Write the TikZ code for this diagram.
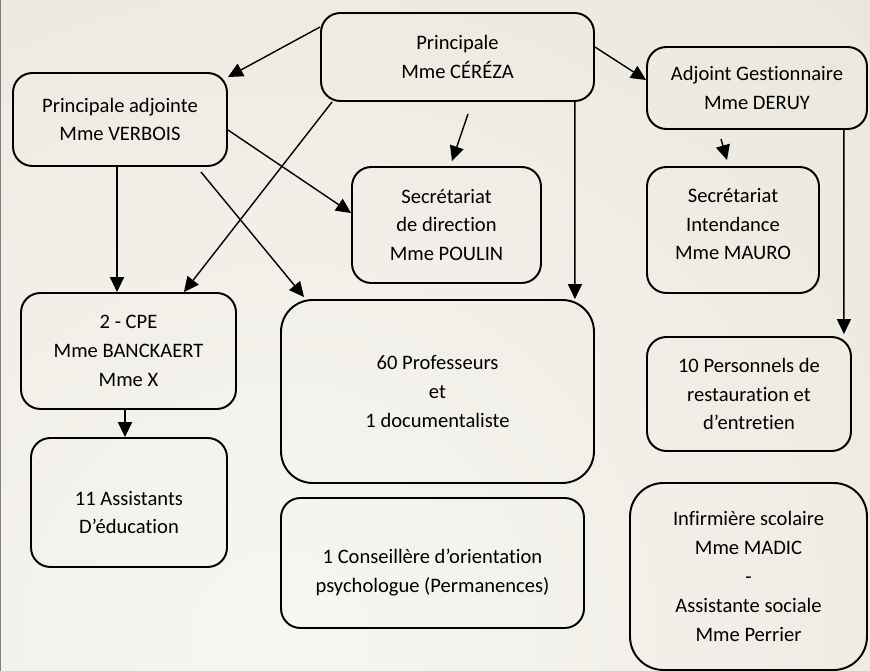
\documentclass[tikz,border=0pt]{standalone}
\usepackage{fontspec}
\setmainfont{Carlito}[Ligatures=CommonOff]
\usetikzlibrary{calc}
\usetikzlibrary{arrows.meta}
\definecolor{bglight}{RGB}{247,246,242}
\definecolor{bgdark}{RGB}{219,213,193}

\begin{document}
\begin{tikzpicture}[x=.02cm, y=-.02cm,
 box/.style={draw, line width=1.1pt, rounded corners=11pt, align=center, inner sep=0pt, font=\fontsize{11.7}{16.4}\selectfont},
 arr/.style={line width=.8pt, -{Triangle[length=8.5pt, width=8pt]}}]
\useasboundingbox (0,0) rectangle (870,671);
\begin{scope}
 \clip (0,0) rectangle (870,671);
 \shade[inner color=bglight, outer color=bgdark] (280,640) circle (1900);
\end{scope}
\draw[gray, line width=1.2pt] (0,0)--(0,671);
\node[box, minimum width=5.46cm, minimum height=1.76cm] (princ) at (457.5,57) {Principale\\Mme CÉRÉZA};
\node[box, minimum width=4.28cm, minimum height=1.86cm] (adj) at (120,119.5) {Principale adjointe\\Mme VERBOIS};
\node[box, minimum width=4.40cm, minimum height=1.64cm] (gest) at (757,88) {Adjoint Gestionnaire\\Mme DERUY};
\node[box, minimum width=3.78cm, minimum height=2.32cm] (secdir) at (446.5,225) {Secrétariat\\de direction\\Mme POULIN};
\node[box, minimum width=3.44cm, minimum height=2.52cm] (secint) at (733,230) {Secrétariat\\Intendance\\Mme MAURO\\[-9.5pt]};
\node[box, minimum width=4.30cm, minimum height=2.32cm] (cpe) at (128.5,351) {2 - CPE\\Mme BANCKAERT\\Mme X};
\node[box, minimum width=6.26cm, minimum height=3.66cm, rounded corners=18pt] (prof) at (437.5,391.5) {60 Professeurs\\et\\1 documentaliste};
\node[box, minimum width=3.92cm, minimum height=2.58cm] (asst) at (129,502.5) {\\[3pt]11 Assistants\\D’éducation};
\node[box, minimum width=6.06cm, minimum height=2.60cm] (cons) at (432.5,563) {\\[3pt]1 Conseillère d’orientation\\psychologue (Permanences)};
\node[box, minimum width=4.08cm, minimum height=2.28cm] (pers) at (749,394) {10 Personnels de\\restauration et\\d’entretien};
\node[box, minimum width=4.74cm, minimum height=3.74cm, rounded corners=19pt] (inf) at (748.5,576.5) {Infirmière scolaire\\Mme MADIC\\-\\Assistante sociale\\Mme Perrier};
\draw[arr] ($(princ.west)+(0,-30)$) -- ($(adj.north east)+(0,5)$);
\draw[arr] ($(princ.east)+(0,-10)$) -- ($(gest.west)+(0,-8)$);
\draw[arr] ($(princ.south)+(10.5,12)$) -- ($(secdir.north)+(5.5,-5)$);
\draw[arr] ($(princ.south east)+(-20,0)$) -- ($(prof.north east)+(-20,0)$);
\draw[arr] ($(princ.south west)+(12,0)$) -- ($(cpe.north east)+(-53,0)$);
\draw[arr] ($(adj.south)+(-3,0)$) -- ($(cpe.north)+(-11.5,0)$);
\draw[arr] ($(adj.east)+(0,10.5)$) -- ($(secdir.west)+(0,-12)$);
\draw[arr] ($(adj.south east)+(-27,5)$) -- ($(prof.north west)+(24,-2)$);
\draw[arr] ($(gest.south)+(-36,9)$) -- ($(secint.north)+(-6,-6)$);
\draw[arr] ($(gest.south east)+(-24,0)$) -- ($(pers.north east)+(-8,-2)$);
\draw[arr] ($(cpe.south)+(-3.5,0)$) -- ($(asst.north)+(-4,0)$);
\end{tikzpicture}
\end{document}
